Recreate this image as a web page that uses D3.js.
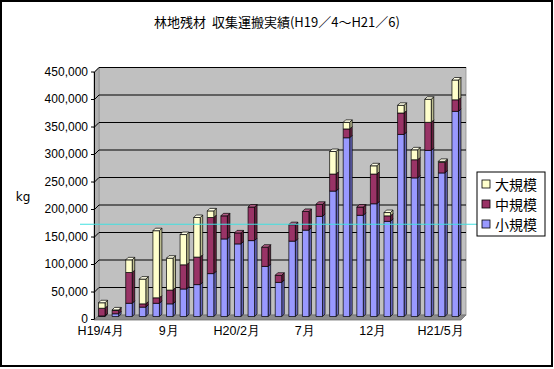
<!DOCTYPE html>
<html lang="ja">
<head>
    <meta charset="UTF-8">
    <title>林地残材 収集運搬実績</title>
    <script src="https://d3js.org/d3.v7.min.js"></script>
    <style>
body {
    margin: 0;
    background: #fff;
}

svg {
    display: block;
    font-family: "DejaVu Sans", "Noto Sans CJK JP", sans-serif;
}
    </style>
</head>
<body>
    <svg id="chart" width="554" height="369"></svg>

    <script>
// months H19/4 .. H21/6
const months = ["H19/4", "H19/5", "H19/6", "H19/7", "H19/8", "H19/9", "H19/10", "H19/11", "H19/12",
    "H20/1", "H20/2", "H20/3", "H20/4", "H20/5", "H20/6", "H20/7", "H20/8", "H20/9", "H20/10", "H20/11", "H20/12",
    "H21/1", "H21/2", "H21/3", "H21/4", "H21/5", "H21/6"];
const tickMonths = ["H19/4", "H19/9", "H20/2", "H20/7", "H20/12", "H21/5"];
const tickLabels = ["H19/4月", "9月", "H20/2月", "7月", "12月", "H21/5月"];

const small  = [1000, 5000, 24000, 17000, 24000, 23000, 50000, 58000, 78000, 141000, 132000, 138000, 91000, 62000,
    137000, 157000, 182000, 228000, 325000, 184000, 205000, 173000, 331000, 252000, 302000, 261000, 373000];
const medium = [14000, 6000, 56000, 6000, 10000, 25000, 44000, 50000, 102000, 42000, 20000, 61000, 35000, 13000,
    30000, 34000, 22000, 31000, 16000, 15000, 54000, 10000, 39000, 33000, 51000, 19000, 21000];
const large  = [10000, 1000, 23000, 45000, 122000, 58000, 55000, 72000, 12000, 0, 0, 0, 0, 0,
    0, 0, 0, 41000, 12000, 0, 15000, 6000, 14000, 18000, 42000, 2000, 36000];

const yTicks = d3.range(0, 450001, 50000);
const refValue = 165000;

const seriesKeys = ["small", "medium", "large"];
const seriesNames = { small: "小規模", medium: "中規模", large: "大規模" };
const faceColor = { small: "#9999FF", medium: "#993366", large: "#FFFFCC" };
const sideColor = { small: "#6666BB", medium: "#66223F", large: "#BBBB90" };
const topColor  = { small: "#B8B8FF", medium: "#B35C85", large: "#FFFFE6" };

const svg = d3.select("#chart");

// 3D geometry (front plane + depth)
const left = 94, right = 461, depth = 5;

const y = d3.scaleLinear().domain([0, 450000]).range([315, 67.5]);     // back wall
const yLab = d3.scaleLinear().domain([0, 450000]).range([319, 71.5]);  // front edge
const x = d3.scaleBand().domain(months).range([left, right]);

// outer frame
svg.append("rect")
    .attr("x", 1).attr("y", 1).attr("width", 551).attr("height", 365)
    .attr("fill", "#fff").attr("stroke", "#000").attr("stroke-width", 2);

// title
svg.append("text")
    .attr("x", 277).attr("y", 27)
    .attr("text-anchor", "middle")
    .style("font-family", "'Noto Sans CJK JP', sans-serif")
    .style("font-size", "13px")
    .style("white-space", "pre")
    .text("林地残材  収集運搬実績(H19／4〜H21／6)");

// walls
const y0 = y(0), yTop = y(450000);
svg.append("rect")
    .attr("x", left + depth).attr("y", yTop)
    .attr("width", right - left).attr("height", y0 - yTop)
    .attr("fill", "#C0C0C0").attr("stroke", "#909090").attr("stroke-width", 0.8);

svg.append("path")
    .attr("d", `M${left},${y0 + depth}L${left + depth},${y0}L${left + depth},${yTop}L${left},${yTop + depth}Z`)
    .attr("fill", "#B0B0B0").attr("stroke", "#909090").attr("stroke-width", 0.8);

svg.append("path")
    .attr("d", `M${left},${y0 + depth}L${right},${y0 + depth}L${right + depth},${y0}L${left + depth},${y0}Z`)
    .attr("fill", "#8C8C8C").attr("stroke", "#707070").attr("stroke-width", 0.8);

// gridlines on the back wall and the side wall
const grid = svg.append("g").attr("stroke", "#000").attr("stroke-width", 1);
yTicks.filter(d => d > 0).forEach(d => {
    grid.append("path")
        .attr("fill", "none")
        .attr("d", `M${left},${y(d) + depth}L${left + depth},${y(d)}L${right + depth},${y(d)}`);
});

// y axis
const yAxis = svg.append("g")
    .attr("transform", `translate(${left},0)`)
    .call(d3.axisLeft(yLab).tickValues(yTicks).tickFormat(d3.format(",")).tickSize(3).tickSizeOuter(0));
yAxis.selectAll("text").style("font-size", "12px").attr("fill", "#000");
yAxis.selectAll("line, path").attr("stroke", "#000");

svg.append("text")
    .attr("x", 23).attr("y", 201)
    .attr("text-anchor", "middle")
    .style("font-size", "12px")
    .text("kg");

// x axis labels
const xAxis = svg.append("g")
    .attr("transform", `translate(0,${y0 + depth})`)
    .call(d3.axisBottom(x).tickValues(tickMonths).tickSize(0)
        .tickFormat(d => tickLabels[tickMonths.indexOf(d)]));
xAxis.select(".domain").remove();
xAxis.selectAll("text")
    .attr("dy", "0.72em")
    .attr("y", 6)
    .style("font-size", "12.5px")
    .attr("fill", "#000");

// stacked 3D bars
const rows = months.map((m, i) => ({ month: m, small: small[i], medium: medium[i], large: large[i] }));
const stacked = d3.stack().keys(seriesKeys)(rows);

const bw = 6.5, dd = 2.5, off = 1.5;
const bars = svg.append("g").attr("stroke", "#000").attr("stroke-width", 0.7).attr("stroke-linejoin", "round");

rows.forEach((r, i) => {
    const bx = x(r.month) + x.bandwidth() / 2 + 1 - bw / 2;
    let lastKey = null;
    stacked.forEach(layer => {
        const [a, b] = layer[i];
        if (b - a <= 0) return;
        const key = layer.key;
        const yb = y(a) + off, yt = y(b) + off;
        bars.append("path")
            .attr("fill", sideColor[key])
            .attr("d", `M${bx + bw},${yt}L${bx + bw + dd},${yt - dd}L${bx + bw + dd},${yb - dd}L${bx + bw},${yb}Z`);
        bars.append("rect")
            .attr("x", bx).attr("y", yt)
            .attr("width", bw).attr("height", yb - yt)
            .attr("fill", faceColor[key]);
        lastKey = key;
    });
    if (lastKey) {
        const total = stacked[stacked.length - 1][i][1];
        const yt = y(total) + off;
        bars.append("path")
            .attr("fill", topColor[lastKey])
            .attr("d", `M${bx},${yt}L${bx + dd},${yt - dd}L${bx + bw + dd},${yt - dd}L${bx + bw},${yt}Z`);
    }
});

// reference line
svg.append("line")
    .attr("x1", 80).attr("x2", 477)
    .attr("y1", y(refValue)).attr("y2", y(refValue))
    .attr("stroke", "#40E0E0").attr("stroke-width", 1.2);

// legend
const legend = svg.append("g").attr("transform", "translate(477,172)");
legend.append("rect")
    .attr("width", 68).attr("height", 64)
    .attr("fill", "#fff").attr("stroke", "#000");

["large", "medium", "small"].forEach((key, i) => {
    const row = legend.append("g").attr("transform", `translate(5,${8 + i * 20})`);
    row.append("rect")
        .attr("width", 8).attr("height", 8)
        .attr("fill", faceColor[key]).attr("stroke", "#000").attr("stroke-width", 0.8);
    row.append("text")
        .attr("x", 13).attr("y", 9.5)
        .style("font-family", "'Noto Sans CJK JP', sans-serif")
        .style("font-size", "14px")
        .text(seriesNames[key]);
});
    </script>
</body>
</html>
